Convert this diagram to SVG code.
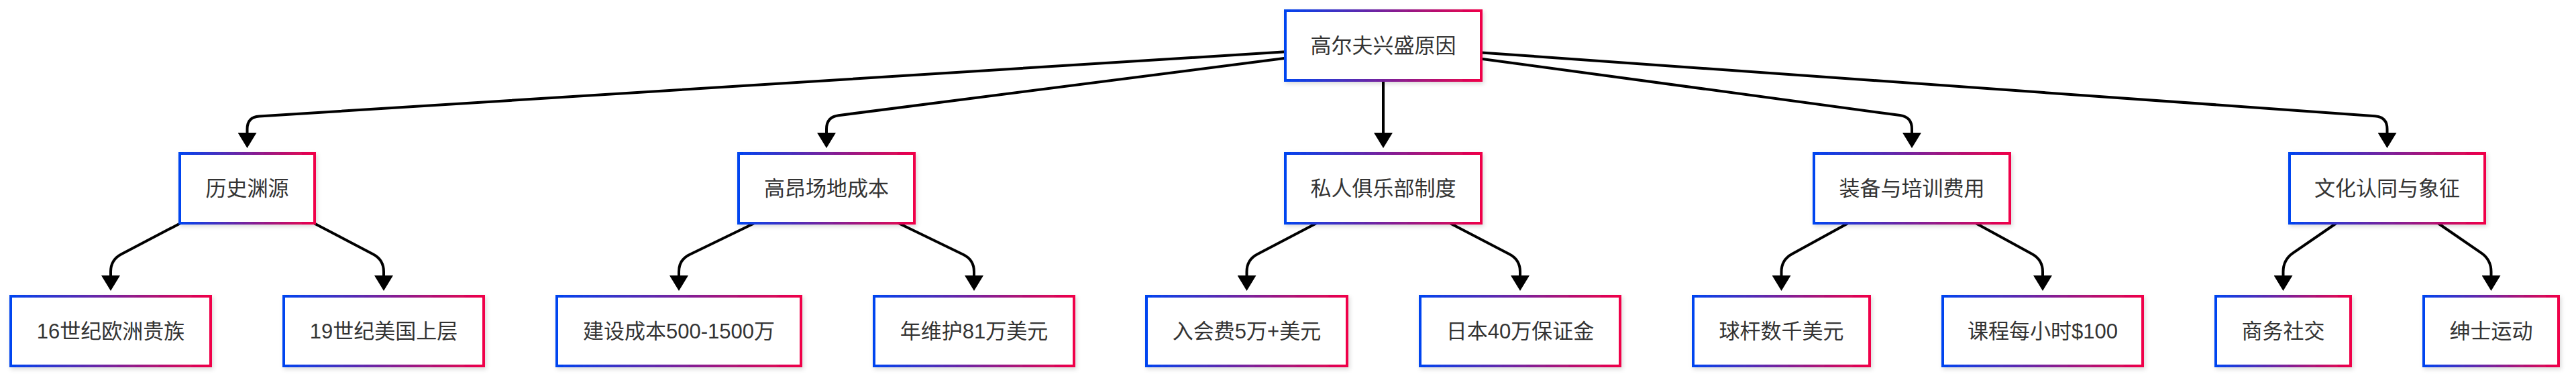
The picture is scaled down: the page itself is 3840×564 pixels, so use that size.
<svg xmlns="http://www.w3.org/2000/svg" width="3840" height="564" viewBox="0 0 3840 564">
  <style>
    .box { fill: #ffffff; stroke: url(#grad); stroke-width: 4; filter: url(#shadow); }
    .lbl { font-family: "Liberation Sans", "Noto Sans CJK SC", sans-serif; font-size: 31px; fill: #333333; text-anchor: middle; }
    .edge { fill: none; stroke: #000000; stroke-width: 4; marker-end: url(#arrow); }
  </style>
  <defs>
    <linearGradient id="grad" x1="0" y1="0" x2="1" y2="0">
      <stop offset="0" stop-color="#0044f0"/>
      <stop offset="1" stop-color="#f00048"/>
    </linearGradient>
    <filter id="shadow" x="-10%" y="-20%" width="120%" height="150%">
      <feDropShadow dx="2" dy="3" stdDeviation="3" flood-color="#000000" flood-opacity="0.15"/>
    </filter>
    <marker id="arrow" markerUnits="userSpaceOnUse" markerWidth="23" markerHeight="28" viewBox="0 0 23 28" refX="0" refY="14" orient="auto">
      <path d="M0,0 L23,14 L0,28 Z" fill="#000000"/>
    </marker>
  </defs>

  <g id="edges">
    <path class="edge" d="M1916,77.2 L386.5,173.4 Q368.5,174.5 368.5,192.5 L368.5,198"/>
    <path class="edge" d="M1916,86.7 L1249.9,172.2 Q1232,174.5 1232,192.5 L1232,198"/>
    <path class="edge" d="M2062,120 L2062,198"/>
    <path class="edge" d="M2208,87.7 L2832.2,172.1 Q2850,174.5 2850,192.5 L2850,198"/>
    <path class="edge" d="M2208,78.4 L3540.5,173.2 Q3558.5,174.5 3558.5,192.5 L3558.5,198"/>

    <path class="edge" d="M269.1,333 L180.9,379.2 Q165,387.5 165,405.5 L165,411"/>
    <path class="edge" d="M467.9,333 L556.1,379.2 Q572,387.5 572,405.5 L572,411"/>
    <path class="edge" d="M1124.6,333 L1028.2,379.7 Q1012,387.5 1012,405.5 L1012,411"/>
    <path class="edge" d="M1339.4,333 L1435.8,379.7 Q1452,387.5 1452,405.5 L1452,411"/>
    <path class="edge" d="M1962.6,333 L1874.4,379.2 Q1858.5,387.5 1858.5,405.5 L1858.5,411"/>
    <path class="edge" d="M2161.4,333 L2250.1,379.2 Q2266,387.5 2266,405.5 L2266,411"/>
    <path class="edge" d="M2755,333 L2671.3,378.9 Q2655.5,387.5 2655.5,405.5 L2655.5,411"/>
    <path class="edge" d="M2945.2,333 L3029.2,378.9 Q3045,387.5 3045,405.5 L3045,411"/>
    <path class="edge" d="M3482.8,333 L3418.3,377.3 Q3403.5,387.5 3403.5,405.5 L3403.5,411"/>
    <path class="edge" d="M3634.2,333 L3698.7,377.3 Q3713.5,387.5 3713.5,405.5 L3713.5,411"/>
  </g>

  <g id="root">
    <rect class="box" x="1916" y="16" width="292" height="104"/>
    <text class="lbl" x="2062" y="79">高尔夫兴盛原因</text>
  </g>

  <g id="history">
    <rect class="box" x="268" y="229" width="201" height="104"/>
    <text class="lbl" x="368.5" y="292">历史渊源</text>
  </g>
  <g id="venue">
    <rect class="box" x="1101" y="229" width="262" height="104"/>
    <text class="lbl" x="1232" y="292">高昂场地成本</text>
  </g>
  <g id="club">
    <rect class="box" x="1916" y="229" width="292" height="104"/>
    <text class="lbl" x="2062" y="292">私人俱乐部制度</text>
  </g>
  <g id="equipment">
    <rect class="box" x="2704" y="229" width="292" height="104"/>
    <text class="lbl" x="2850" y="292">装备与培训费用</text>
  </g>
  <g id="culture">
    <rect class="box" x="3413" y="229" width="291" height="104"/>
    <text class="lbl" x="3558.5" y="292">文化认同与象征</text>
  </g>

  <g id="leaf1">
    <rect class="box" x="16" y="442" width="298" height="104"/>
    <text class="lbl" x="165" y="505">16世纪欧洲贵族</text>
  </g>
  <g id="leaf2">
    <rect class="box" x="423" y="442" width="298" height="104"/>
    <text class="lbl" x="572" y="505">19世纪美国上层</text>
  </g>
  <g id="leaf3">
    <rect class="box" x="830" y="442" width="364" height="104"/>
    <text class="lbl" x="1012" y="505">建设成本500-1500万</text>
  </g>
  <g id="leaf4">
    <rect class="box" x="1303" y="442" width="298" height="104"/>
    <text class="lbl" x="1452" y="505">年维护81万美元</text>
  </g>
  <g id="leaf5">
    <rect class="box" x="1709" y="442" width="299" height="104"/>
    <text class="lbl" x="1858.5" y="505">入会费5万+美元</text>
  </g>
  <g id="leaf6">
    <rect class="box" x="2117" y="442" width="298" height="104"/>
    <text class="lbl" x="2266" y="505">日本40万保证金</text>
  </g>
  <g id="leaf7">
    <rect class="box" x="2524" y="442" width="263" height="104"/>
    <text class="lbl" x="2655.5" y="505">球杆数千美元</text>
  </g>
  <g id="leaf8">
    <rect class="box" x="2896" y="442" width="298" height="104"/>
    <text class="lbl" x="3045" y="505">课程每小时$100</text>
  </g>
  <g id="leaf9">
    <rect class="box" x="3303" y="442" width="201" height="104"/>
    <text class="lbl" x="3403.5" y="505">商务社交</text>
  </g>
  <g id="leaf10">
    <rect class="box" x="3613" y="442" width="201" height="104"/>
    <text class="lbl" x="3713.5" y="505">绅士运动</text>
  </g>
</svg>
